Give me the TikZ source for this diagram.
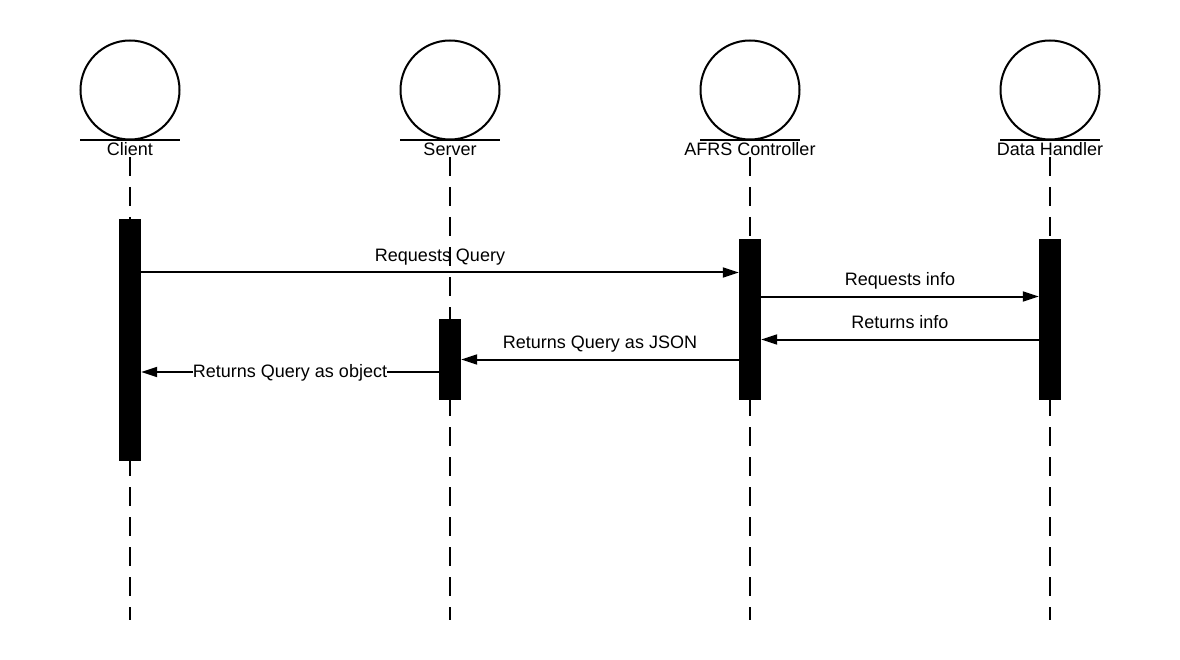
\documentclass[tikz,border=0pt]{standalone}
\usepackage{fontspec}
\setmainfont{Liberation Sans}
\usetikzlibrary{arrows.meta}
\begin{document}
\begin{tikzpicture}[x=1pt,y=-1pt,
  actor/.style={circle,draw,line width=2pt,minimum size=99pt,inner sep=0pt},
  albl/.style={font=\fontsize{18}{20}\selectfont,inner sep=0pt,anchor=center},
  lifeline/.style={line width=2pt,dash pattern=on 19pt off 11pt},
  actbar/.style={fill=black,draw=none,minimum width=22pt,inner sep=0pt},
  msg/.style={line width=2pt,-{Triangle[length=16pt,width=10pt]}},
  mlbl/.style={font=\fontsize{18}{20}\selectfont,inner sep=1pt,text height=13pt,text depth=4pt}]
\path[use as bounding box,fill=white] (0,0) rectangle (1180,660);

% actors
\foreach \n/\x/\t in {a/130/Client,b/450/Server,c/750/AFRS Controller,d/1050/Data Handler}{
  \node[actor] (\n c) at (\x,90) {};
  \coordinate (\n u1) at (\x-50,140);
  \coordinate (\n u2) at (\x+50,140);
  \draw[line width=2pt] (\n u1) -- (\n u2);
  \node[albl] (\n l) at (\x,149) {\t};
  \coordinate (\n s) at (\x,157);
  \coordinate (\n e) at (\x,620);
  \draw[lifeline] (\n s) -- (\n e);
}

% activation bars
\node[actbar,minimum height=242pt] (ab) at (130,340) {};
\node[actbar,minimum height=81pt] (bb) at (450,359.5) {};
\node[actbar,minimum height=161pt] (cb) at (750,319.5) {};
\node[actbar,minimum height=161pt] (db) at (1050,319.5) {};

% messages
\draw[msg] (ab.east |- 0,272.5) -- node[mlbl,above=5pt] {Requests Query} (cb.west |- 0,272.5);
\draw[msg] (cb.east |- 0,296.5) -- node[mlbl,above=5pt] {Requests info} (db.west |- 0,296.5);
\draw[msg] (db.west |- 0,339.5) -- node[mlbl,above=5pt] {Returns info} (cb.east |- 0,339.5);
\draw[msg] (cb.west |- 0,359.5) -- node[mlbl,above=5pt] {Returns Query as JSON} (bb.east |- 0,359.5);
\draw[msg] (bb.west |- 0,372) -- node[mlbl,fill=white,inner sep=0pt,yshift=-1pt] {Returns Query as object} (ab.east |- 0,372);
\end{tikzpicture}
\end{document}
